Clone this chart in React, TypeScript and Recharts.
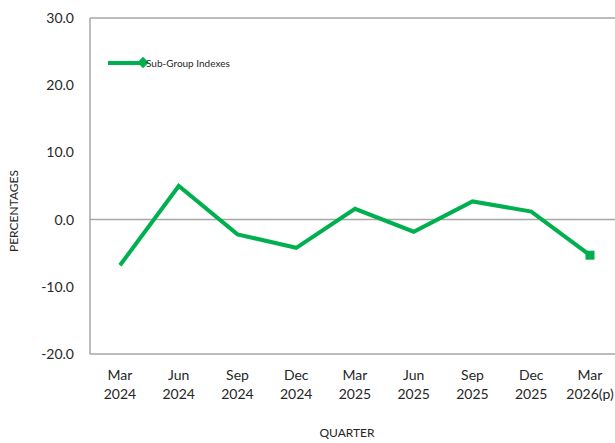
import { LineChart, Line, XAxis, YAxis, ReferenceLine, Label } from 'recharts'

const quarters = ['Mar 2024', 'Jun 2024', 'Sep 2024', 'Dec 2024', 'Mar 2025', 'Jun 2025', 'Sep 2025', 'Dec 2025', 'Mar 2026(p)']
const subGroup = [-6.8, 5.0, -2.2, -4.2, 1.6, -1.8, 2.7, 1.2, -5.3]
const yTicks = [-20, -10, 0, 10, 20, 30]

const GREEN = '#00B050'
const FONT = 'Lato, "Open Sans", sans-serif'

const data = quarters.map((q, i) => ({ quarter: q, value: subGroup[i] }))

const QuarterTick = (props: any) => {
  const { x, y, payload } = props
  const [m, yr] = String(payload.value).split(' ')
  return (
    <text x={x} y={y} textAnchor="middle" fill="#262626" fontSize={14} fontFamily={FONT}>
      <tspan x={x} dy={18}>{m}</tspan>
      <tspan x={x} dy={19}>{yr}</tspan>
    </text>
  )
}

const LastDot = (props: any) => {
  const { cx, cy, index } = props
  if (index !== subGroup.length - 1) return <g key={index} />
  return <rect key={index} x={cx - 4.5} y={cy - 4.5} width={9} height={9} fill={GREEN} />
}

// legend drawn as an overlay so it does not push the plot down
const LegendBox = () => (
  <svg width={160} height={16} style={{ position: 'absolute', left: 106, top: 55 }}>
    <line x1={2} y1={8} x2={38} y2={8} stroke={GREEN} strokeWidth={4} />
    <rect x={33} y={3.5} width={8} height={8} fill={GREEN} transform="rotate(45 37 7.5)" />
    <text x={40} y={11.5} fontSize={10} fill="#262626" fontFamily={FONT}>Sub-Group Indexes</text>
  </svg>
)

export default function App() {
  return (
    <div style={{ position: 'absolute', left: 0, top: 0, width: 615, height: 443, overflow: 'hidden', background: '#fff' }}>
      <LineChart width={620} height={443} data={data} margin={{ top: 18, right: 0, left: 0, bottom: 0 }}>
        <XAxis
          dataKey="quarter"
          height={89}
          tick={<QuarterTick />}
          tickLine={false}
          axisLine={{ stroke: '#a6a6a6', strokeWidth: 1.5 }}
          interval={0}
          padding={{ left: 30, right: 30 }}
        >
          <Label
            content={() => (
              <text x={347} y={437} textAnchor="middle" fontSize={12} fill="#262626" fontFamily={FONT}>QUARTER</text>
            )}
          />
        </XAxis>
        <YAxis
          width={90}
          domain={[-20, 30]}
          ticks={yTicks}
          tickFormatter={(v: number) => v.toFixed(1)}
          tick={{ fontSize: 14, fill: '#262626', fontFamily: FONT }}
          tickLine={false}
          tickSize={0}
          tickMargin={16}
          axisLine={{ stroke: '#a6a6a6', strokeWidth: 1.5 }}
        >
          <Label
            content={() => (
              <text x={18} y={211} transform="rotate(-90 18 211)" textAnchor="middle" fontSize={12} fill="#262626" fontFamily={FONT}>PERCENTAGES</text>
            )}
          />
        </YAxis>
        <ReferenceLine y={30} stroke="#a6a6a6" strokeWidth={1.5} />
        <ReferenceLine y={0} stroke="#a6a6a6" strokeWidth={1.5} />
        <Line
          type="linear"
          dataKey="value"
          stroke={GREEN}
          strokeWidth={4}
          dot={<LastDot />}
          activeDot={false}
          isAnimationActive={false}
        />
      </LineChart>
      <LegendBox />
    </div>
  )
}
